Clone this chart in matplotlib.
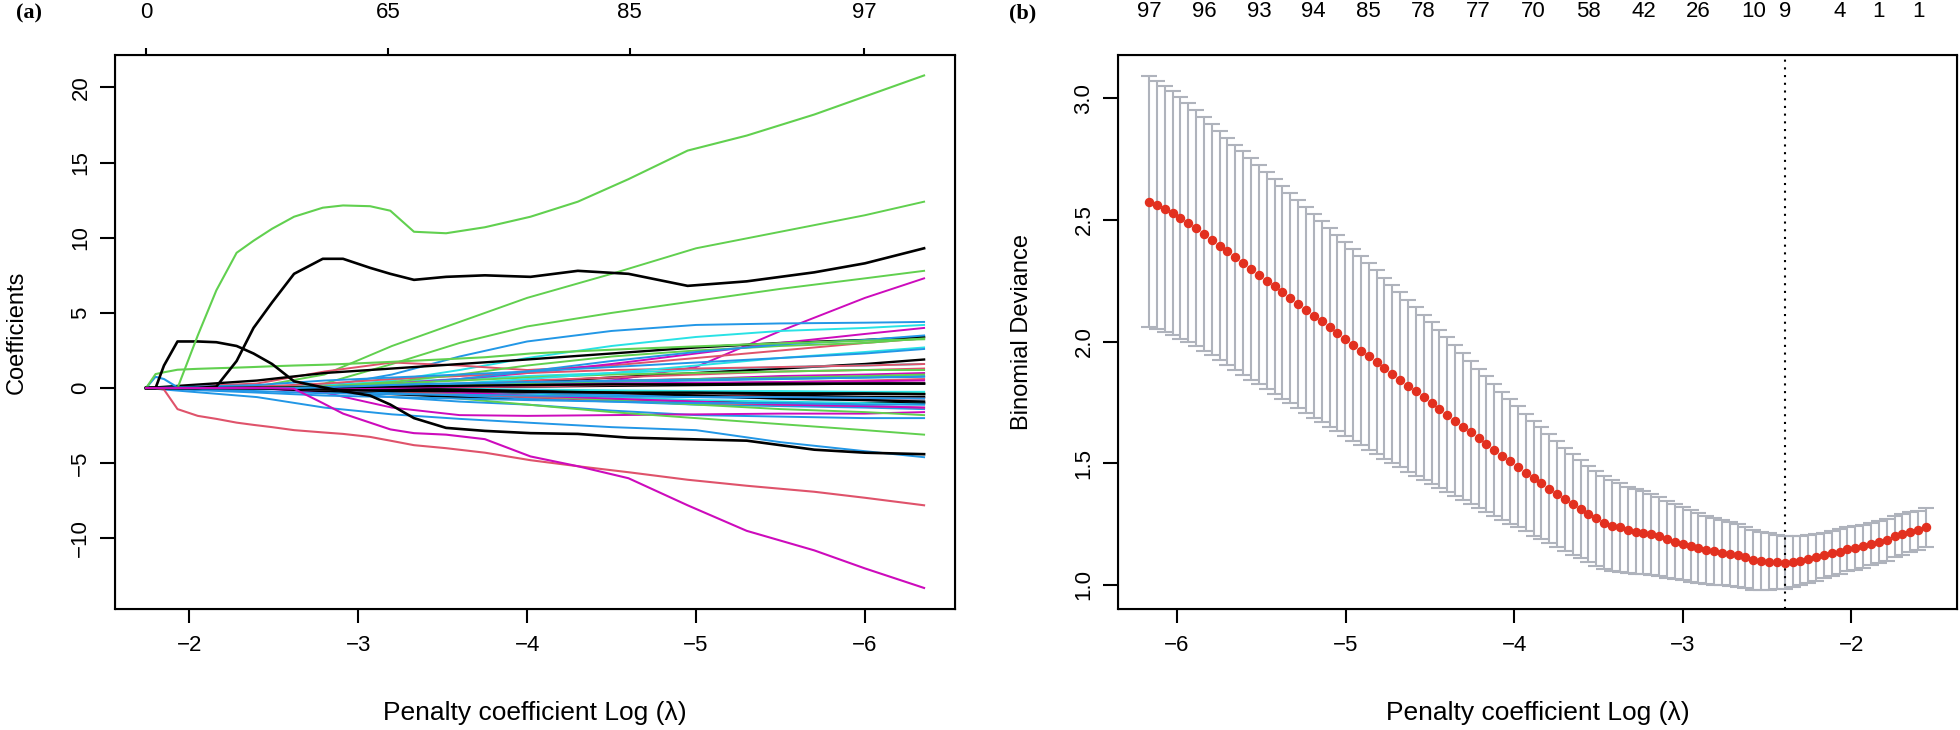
"""LASSO coefficient paths (a) and CV binomial deviance (b)"""
import matplotlib
matplotlib.use("Agg")
import matplotlib.pyplot as plt

plt.rcParams['font.family'] = ['Liberation Sans Narrow', 'Liberation Sans', 'DejaVu Sans']

# R default palette used by matplot
BLACK, RED, GREEN, BLUE, CYAN, MAGENTA = 'black', '#DF536B', '#61D04F', '#2297E6', '#28E2E5', '#CD0BBC'

# ---- panel (a): coefficient paths ----
KNOTS_FINE = [-1.744, -1.80, -1.85, -1.93, -2.05, -2.16, -2.28, -2.38, -2.49, -2.62, -2.79, -2.91, -3.07,
              -3.19, -3.33, -3.52, -3.75, -4.02, -4.30, -4.60, -4.95, -5.30, -5.70, -6.00, -6.35]
GREEN_TOP = [0, 0, 0, 0, 3.5, 6.5, 9.0, 9.8, 10.6, 11.4, 12.0, 12.15, 12.1, 11.8, 10.4, 10.3, 10.7, 11.4,
             12.4, 13.9, 15.8, 16.8, 18.2, 19.4, 20.8]
BLACK_BIG = [0, 0, 0, 0, 0, 0.1, 1.8, 4.0, 5.7, 7.6, 8.6, 8.6, 8.0, 7.6, 7.2, 7.4, 7.5, 7.4,
             7.8, 7.6, 6.8, 7.1, 7.7, 8.3, 9.3]
BLACK_BUMP = [0, 0, 1.5, 3.1, 3.1, 3.05, 2.8, 2.3, 1.6, 0.45, 0.05, -0.2, -0.5, -1.1, -2.0, -2.65, -2.85,
              -3.0, -3.05, -3.3, -3.4, -3.5, -4.1, -4.3, -4.4]
RED_LOW = [0, 0, -0.1, -1.4, -1.85, -2.05, -2.3, -2.45, -2.6, -2.8, -2.95, -3.05, -3.25, -3.5, -3.8, -4.0,
           -4.3, -4.8, -5.2, -5.6, -6.1, -6.5, -6.9, -7.3, -7.8]
MAGENTA_LOW = [0, 0, 0, 0, 0, 0, 0, 0, 0, -0.05, -1.0, -1.7, -2.3, -2.75, -3.0, -3.1, -3.4, -4.55,
               -5.2, -6.0, -7.8, -9.5, -10.8, -12.0, -13.3]
GREEN_FLAT = [0, 0.93, 1.05, 1.22, 1.28, 1.32, 1.36, 1.4, 1.45, 1.5, 1.55, 1.6, 1.68, 1.74, 1.82, 1.92,
              2.05, 2.3, 2.45, 2.6, 2.75, 2.9, 3.05, 3.15, 3.25]
BLUE_BUMP = [0, 0.75, 0.6, 0.05, 0, 0, 0, 0, 0, 0, 0.05, 0.1, 0.15, 0.2, 0.25, 0.3, 0.35, 0.4,
             0.45, 0.5, 0.55, 0.6, 0.65, 0.7, 0.75]
FINE_PATHS = [BLUE_BUMP, GREEN_FLAT, BLACK_BUMP, RED_LOW, GREEN_TOP, BLACK_BIG, MAGENTA_LOW]
FINE_COLORS = [BLUE, GREEN, BLACK, RED, GREEN, BLACK, MAGENTA]

KNOTS = [-1.744, -2.4, -2.8, -3.2, -3.6, -4.0, -4.5, -5.0, -5.5, -6.0, -6.35]
PATH_COLORS = [GREEN, GREEN, MAGENTA, BLUE, BLUE, BLUE, CYAN, MAGENTA, RED, BLACK,
               GREEN, BLACK, BLACK, CYAN, MAGENTA, RED, GREEN, BLUE, BLUE, RED,
               GREEN, CYAN, BLACK, MAGENTA, RED, GREEN, BLUE, CYAN, BLACK, RED,
               MAGENTA, BLUE, GREEN, BLACK, CYAN, RED, BLUE, GREEN, BLACK, MAGENTA,
               BLUE, BLUE, BLUE, BLACK, BLACK]
PATH_VALUES = [
    [0, 0.1, 0.9, 2.8, 4.4, 6.0, 7.6, 9.3, 10.4, 11.5, 12.4],
    [0, 0, 0.3, 1.6, 3.0, 4.1, 5.0, 5.8, 6.6, 7.3, 7.8],
    [0, 0, 0, 0, 0.05, 0.2, 0.5, 1.4, 3.8, 6.0, 7.3],
    [0, 0, 0.1, 0.9, 2.1, 3.1, 3.8, 4.2, 4.3, 4.35, 4.4],
    [0, -0.6, -1.3, -1.75, -2.05, -2.3, -2.6, -2.8, -3.6, -4.2, -4.6],
    [0, 0, -0.2, -0.6, -0.9, -1.1, -1.5, -1.8, -1.9, -2.0, -2.0],
    [0, 0, 0.1, 0.5, 1.2, 2.0, 2.8, 3.4, 3.8, 4.0, 4.2],
    [0, 0, -0.3, -1.3, -1.8, -1.85, -1.8, -1.75, -1.7, -1.7, -1.6],
    [0, 0.3, 1.1, 1.7, 1.5, 1.2, 1.5, 2.0, 2.5, 3.0, 3.3],
    [0, 0.5, 1.0, 1.3, 1.6, 1.9, 2.3, 2.7, 3.0, 3.2, 3.4],
    [0, 0, 0, -0.3, -0.7, -1.1, -1.6, -2.0, -2.4, -2.8, -3.1],
    [0, 0, -0.2, -0.4, -0.6, -0.7, -0.8, -0.9, -1.0, -1.0, -1.0],
    [0, 0, 0, 0.1, 0.2, 0.4, 0.7, 1.0, 1.3, 1.6, 1.9],
    [0, 0, 0.2, 0.4, 0.6, 0.8, 1.0, 1.2, 1.4, 1.5, 1.6],
    [0, 0, 0.1, 0.3, 0.6, 1.0, 1.6, 2.3, 3.0, 3.6, 4.0],
    [0, 0.1, 0.3, 0.6, 0.8, 1.0, 1.2, 1.3, 1.4, 1.5, 1.6],
    [0, 0, 0.1, 0.4, 0.9, 1.5, 2.1, 2.5, 2.8, 3.0, 3.3],
    [0, 0, 0, 0.2, 0.6, 1.1, 1.8, 2.4, 2.9, 3.2, 3.5],
    [0, 0, -0.1, -0.3, -0.5, -0.7, -0.9, -1.1, -1.2, -1.3, -1.4],
    [0, 0, -0.1, -0.2, -0.4, -0.6, -0.8, -1.0, -1.1, -1.2, -1.3],
    [0, 0, 0, -0.1, -0.3, -0.5, -0.8, -1.1, -1.4, -1.6, -1.8],
    [0, 0, 0, -0.1, -0.2, -0.4, -0.6, -0.8, -0.9, -1.0, -1.1],
    [0, 0, 0, -0.1, -0.2, -0.3, -0.4, -0.5, -0.5, -0.6, -0.6],
    [0, 0, 0, 0.1, 0.2, 0.3, 0.5, 0.6, 0.8, 0.9, 1.0],
    [0, 0, 0, 0.1, 0.3, 0.5, 0.7, 0.9, 1.1, 1.2, 1.3],
    [0, 0, 0.1, 0.3, 0.5, 0.7, 0.9, 1.0, 1.1, 1.2, 1.2],
    [0, 0, 0, 0.1, 0.2, 0.3, 0.4, 0.5, 0.6, 0.7, 0.8],
    [0, 0, 0, 0.1, 0.3, 0.6, 1.0, 1.5, 2.0, 2.4, 2.7],
    [0, 0, 0, 0, -0.1, -0.2, -0.3, -0.3, -0.4, -0.4, -0.4],
    [0, 0, 0, -0.1, -0.2, -0.3, -0.4, -0.5, -0.6, -0.7, -0.7],
    [0, 0, 0, -0.1, -0.3, -0.5, -0.7, -0.9, -1.1, -1.2, -1.3],
    [0, 0, 0, 0, 0.1, 0.15, 0.2, 0.25, 0.3, 0.3, 0.3],
    [0, 0, 0, 0, -0.1, -0.15, -0.2, -0.25, -0.3, -0.3, -0.3],
    [0, 0, 0, 0, 0.05, 0.1, 0.15, 0.2, 0.25, 0.3, 0.3],
    [0, 0, 0, 0, -0.05, -0.1, -0.15, -0.2, -0.2, -0.25, -0.25],
    [0, 0, 0, 0, 0.05, 0.1, 0.2, 0.3, 0.4, 0.5, 0.6],
    [0, 0, 0, -0.05, -0.15, -0.3, -0.45, -0.6, -0.7, -0.8, -0.9],
    [0, 0, 0, 0.05, 0.15, 0.3, 0.45, 0.6, 0.7, 0.8, 0.9],
    [0, 0, 0, -0.05, -0.1, -0.2, -0.3, -0.5, -0.7, -0.8, -0.9],
    [0, 0, 0, 0, 0.1, 0.2, 0.3, 0.35, 0.4, 0.45, 0.5],
    [0, -0.3, -0.5, -0.6, -0.7, -0.8, -0.9, -1.0, -1.0, -1.1, -1.1],
    [0, -0.2, -0.35, -0.4, -0.45, -0.5, -0.55, -0.6, -0.6, -0.65, -0.7],
    [0, 0.2, 0.5, 0.7, 0.9, 1.1, 1.4, 1.7, 2.0, 2.3, 2.6],
    [0, 0, -0.1, -0.2, -0.2, -0.25, -0.3, -0.3, -0.35, -0.35, -0.4],
    [0, 0, 0.05, 0.1, 0.15, 0.2, 0.25, 0.25, 0.3, 0.3, 0.3],
]
TOP_POS_A = [-1.744, -3.175, -4.608, -5.994]
TOP_LAB_A = ['0', '65', '85', '97']

# ---- panel (b): cross-validation curve ----
LOG_LAMBDA = [-6.166, -6.119, -6.073, -6.026, -5.980, -5.933, -5.887, -5.840, -5.794, -5.747,
              -5.701, -5.654, -5.607, -5.561, -5.514, -5.468, -5.421, -5.375, -5.328, -5.282,
              -5.235, -5.189, -5.142, -5.095, -5.049, -5.002, -4.956, -4.909, -4.863, -4.816,
              -4.770, -4.723, -4.677, -4.630, -4.583, -4.537, -4.490, -4.444, -4.397, -4.351,
              -4.304, -4.258, -4.211, -4.165, -4.118, -4.071, -4.025, -3.978, -3.932, -3.885,
              -3.839, -3.792, -3.746, -3.699, -3.653, -3.606, -3.560, -3.513, -3.466, -3.420,
              -3.373, -3.327, -3.280, -3.234, -3.187, -3.141, -3.094, -3.048, -3.001, -2.954,
              -2.908, -2.861, -2.815, -2.768, -2.722, -2.675, -2.629, -2.582, -2.536, -2.489,
              -2.442, -2.396, -2.349, -2.303, -2.256, -2.210, -2.163, -2.117, -2.070, -2.024,
              -1.977, -1.930, -1.884, -1.837, -1.791, -1.744, -1.698, -1.651, -1.605, -1.558]
CVM = [2.575, 2.562, 2.545, 2.527, 2.508, 2.488, 2.466, 2.443, 2.419, 2.395,
       2.371, 2.347, 2.323, 2.299, 2.275, 2.251, 2.227, 2.203, 2.179, 2.155,
       2.131, 2.107, 2.083, 2.059, 2.035, 2.011, 1.987, 1.963, 1.939, 1.915,
       1.891, 1.867, 1.843, 1.819, 1.795, 1.771, 1.747, 1.723, 1.699, 1.675,
       1.651, 1.627, 1.603, 1.579, 1.555, 1.531, 1.508, 1.485, 1.462, 1.439,
       1.417, 1.395, 1.373, 1.352, 1.332, 1.312, 1.292, 1.273, 1.256, 1.244,
       1.236, 1.226, 1.219, 1.215, 1.208, 1.199, 1.188, 1.177, 1.170, 1.161,
       1.152, 1.144, 1.139, 1.133, 1.128, 1.121, 1.113, 1.103, 1.099, 1.096,
       1.094, 1.092, 1.095, 1.100, 1.106, 1.114, 1.121, 1.130, 1.137, 1.146,
       1.152, 1.159, 1.167, 1.176, 1.185, 1.199, 1.208, 1.217, 1.224, 1.236]
CVSD = [0.515, 0.511, 0.506, 0.501, 0.496, 0.491, 0.486, 0.481, 0.476, 0.471,
        0.467, 0.463, 0.459, 0.455, 0.450, 0.446, 0.441, 0.437, 0.432, 0.428,
        0.424, 0.419, 0.414, 0.409, 0.404, 0.399, 0.394, 0.389, 0.384, 0.378,
        0.372, 0.366, 0.360, 0.354, 0.347, 0.340, 0.333, 0.326, 0.318, 0.310,
        0.302, 0.294, 0.286, 0.278, 0.270, 0.263, 0.256, 0.249, 0.242, 0.236,
        0.230, 0.224, 0.218, 0.212, 0.207, 0.202, 0.198, 0.194, 0.190, 0.186,
        0.182, 0.178, 0.174, 0.170, 0.166, 0.162, 0.158, 0.154, 0.150, 0.147,
        0.144, 0.141, 0.138, 0.135, 0.132, 0.129, 0.126, 0.123, 0.120, 0.116,
        0.112, 0.108, 0.104, 0.101, 0.098, 0.096, 0.094, 0.092, 0.091, 0.090,
        0.089, 0.088, 0.087, 0.086, 0.085, 0.084, 0.083, 0.082, 0.081, 0.080]
LAMBDA_MIN = -2.396
NZERO_IDX = [0, 7, 14, 21, 28, 35, 42, 49, 56, 63, 70, 77, 81, 88, 93, 98]
NZERO_LAB = ['97', '96', '93', '94', '85', '78', '77', '70', '58', '42', '26', '10', '9', '4', '1', '1']

W, H = 1960, 730
fig = plt.figure(figsize=(W / 100, H / 100), dpi=100)


def rect(l, r, t, b):
    return [l / W, 1 - b / H, (r - l) / W, (b - t) / H]


def style(ax):
    for s in ax.spines.values():
        s.set_linewidth(1.5)
    ax.tick_params(axis='x', direction='out', length=10, width=1.5, labelsize=16, pad=9)
    ax.tick_params(axis='y', direction='out', length=11, width=1.5, labelsize=16, pad=6,
                   labelrotation=90)
    for lab in ax.get_yticklabels():
        lab.set_family(['Liberation Sans', 'DejaVu Sans'])
        lab.set_va('center')


# (a)
ax1 = fig.add_axes(rect(115, 955, 55, 609))
for vals, c in zip(PATH_VALUES, PATH_COLORS):
    ax1.plot(KNOTS, vals, color=c, lw=1.7 if c == BLACK else 1.4)
for vals, c in zip(FINE_PATHS, FINE_COLORS):
    ax1.plot(KNOTS_FINE, vals, color=c, lw=1.9 if c == BLACK else 1.5)
ax1.set_xlim(-1.56, -6.533)
ax1.set_ylim(-14.7, 22.16)
ax1.set_xticks([-2, -3, -4, -5, -6], ['\u22122', '\u22123', '\u22124', '\u22125', '\u22126'])
ax1.set_yticks([-10, -5, 0, 5, 10, 15, 20], ['\u221210', '\u22125', '0', '5', '10', '15', '20'])
style(ax1)
ax1.set_xlabel('Penalty coefficient Log (\u03bb)', fontsize=19)
ax1.xaxis.set_label_coords(0.5, -(713 - 609) / 554)
ax1.xaxis.label.set_va('center')
ax1.set_ylabel('Coefficients', fontsize=17, family=['Liberation Sans', 'DejaVu Sans'])
ax1.yaxis.set_label_coords(-(115 - 17) / 840, 0.5)
ax1.yaxis.label.set_va('center')
top1 = ax1.twiny()
top1.set_xlim(ax1.get_xlim())
top1.set_xticks(TOP_POS_A, TOP_LAB_A)
top1.tick_params(axis='x', direction='out', length=5, width=1.5, labelsize=16, pad=18)
fig.text(16 / W, 1 - 13 / H, '(a)', family=['Liberation Serif', 'DejaVu Serif'],
         weight='bold', fontsize=16, ha='left', va='center')

# (b)
ax2 = fig.add_axes(rect(1118, 1957, 55, 609))
ax2.errorbar(LOG_LAMBDA, CVM, yerr=CVSD, fmt='none', ecolor='#AFB3BC', elinewidth=1.5,
             capsize=6, capthick=1.5, zorder=1)
ax2.plot(LOG_LAMBDA, CVM, 'o', color='#E2301F', ms=5.8, mec='#E2301F', zorder=3)
ax2.axvline(LAMBDA_MIN, color='black', lw=1.5, ls=(0, (1, 2.7)), zorder=2)
ax2.set_xlim(-6.35, -1.374)
ax2.set_ylim(0.901, 3.178)
ax2.set_xticks([-6, -5, -4, -3, -2], ['\u22126', '\u22125', '\u22124', '\u22123', '\u22122'])
ax2.set_yticks([1.0, 1.5, 2.0, 2.5, 3.0], ['1.0', '1.5', '2.0', '2.5', '3.0'])
style(ax2)
ax2.set_xlabel('Penalty coefficient Log (\u03bb)', fontsize=19)
ax2.xaxis.set_label_coords(0.5, -(713 - 609) / 554)
ax2.xaxis.label.set_va('center')
ax2.set_ylabel('Binomial Deviance', fontsize=17, family=['Liberation Sans', 'DejaVu Sans'])
ax2.yaxis.set_label_coords(-(1118 - 1022) / 839, 0.5)
ax2.yaxis.label.set_va('center')
top2 = ax2.twiny()
top2.set_xlim(ax2.get_xlim())
top2.set_xticks([LOG_LAMBDA[i] for i in NZERO_IDX], NZERO_LAB)
top2.tick_params(axis='x', length=0, labelsize=16, pad=24)
fig.text(1009 / W, 1 - 13 / H, '(b)', family=['Liberation Serif', 'DejaVu Serif'],
         weight='bold', fontsize=16, ha='left', va='center')

fig.savefig('out.png', dpi=100)
